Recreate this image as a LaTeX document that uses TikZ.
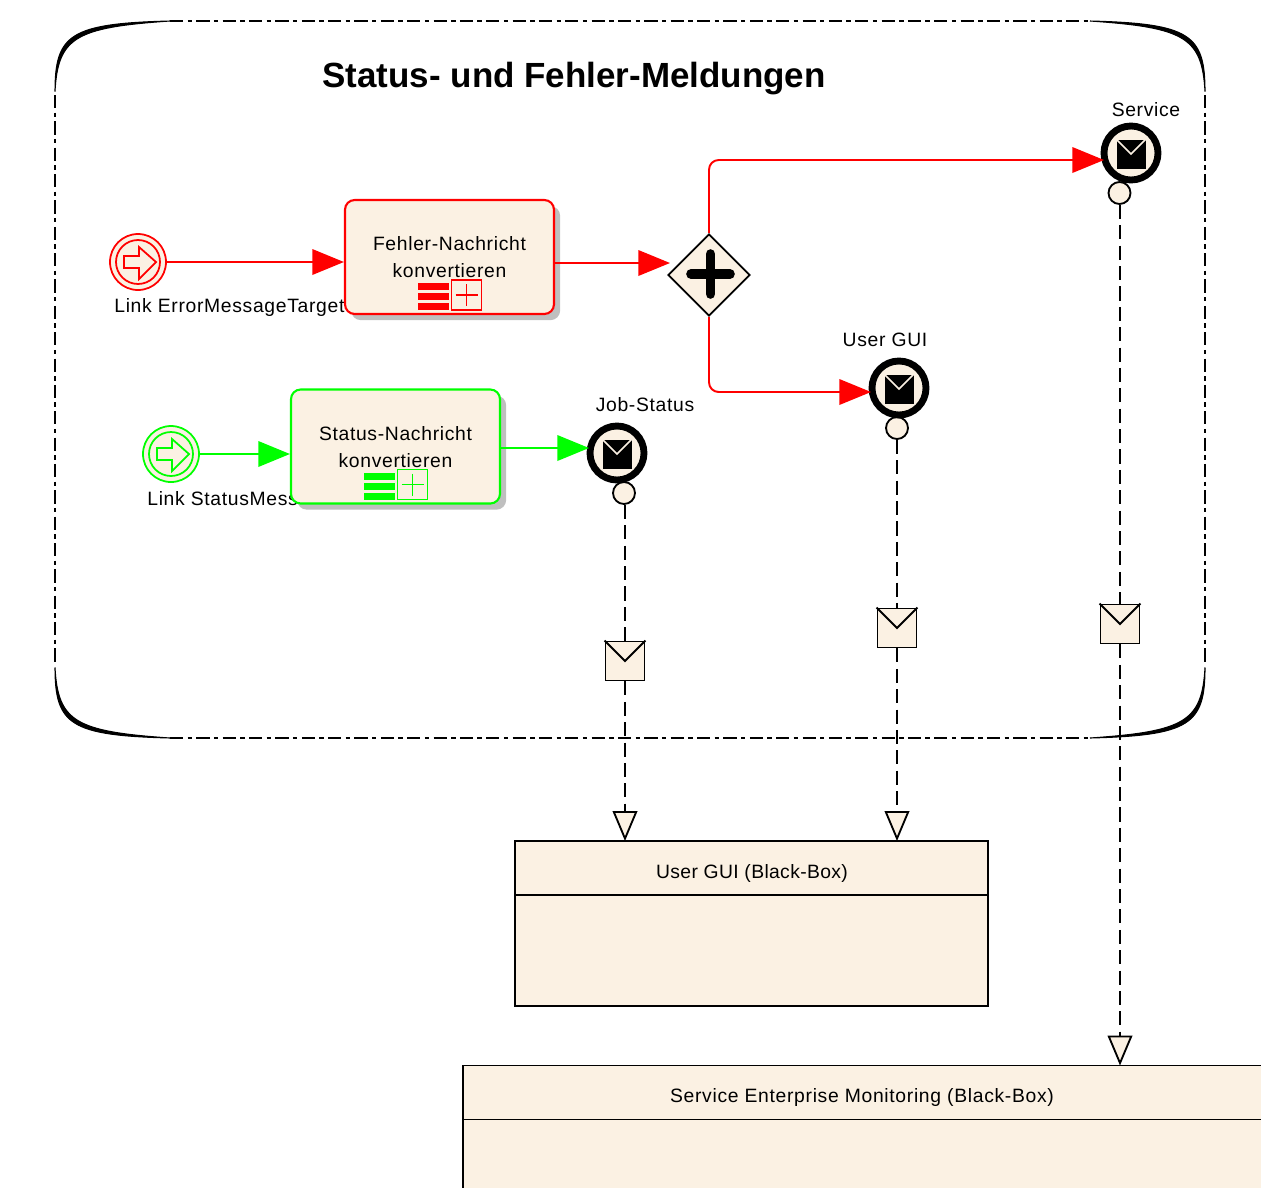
\documentclass[tikz,border=0pt]{standalone}
\usepackage{fontspec}
\setmainfont{Liberation Sans}
\newfontfamily\labelfont[LetterSpace=3.5]{Liberation Sans}
\newfontfamily\poolfont[LetterSpace=1.8]{Liberation Sans}
\usepackage{xcolor}
\usetikzlibrary{arrows.meta,positioning,shadows,shapes.geometric,calc}
\definecolor{cream}{RGB}{251,241,227}
\definecolor{linkGreen}{RGB}{0,255,0}
\def\u{0.02cm}
\tikzset{
  flow/.style={line width=1.1pt,-{Triangle[length=18pt,width=14.5pt]}},
  msgFlow/.style={black,line width=1.05pt,dash pattern=on 8pt off 3.6pt},
  msgArrow/.style={msgFlow,-{Triangle[open,fill=cream,length=17pt,width=14pt,line width=1.05pt]}},
  frameLine/.style={line width=1.05pt,dash pattern=on 7.5pt off 2.5pt on 2.5pt off 2.5pt},
  task/.style={rectangle,rounded corners=5.5pt,fill=cream,line width=1.2pt,minimum width={209*\u},minimum height={114*\u},
    drop shadow={shadow xshift=3.5pt,shadow yshift=-3.5pt,fill=black!25,opacity=1}},
  label/.style={font=\labelfont\fontsize{11}{13}\selectfont,inner sep=0pt},
  taskText/.style={label,align=center},
  pool/.style={rectangle,draw,fill=cream,line width=1.05pt,inner sep=0pt,outer sep=0pt}
}
\begin{document}
\begin{tikzpicture}[x=\u,y=-\u]
\clip (0,0) rectangle (1261,1187);

% the frame of the process
\draw[frameLine] (170,21) -- (1090,21);
\draw[frameLine] (170,738) -- (1090,738);
\draw[frameLine] (55,95) -- (55,665);
\draw[frameLine] (1205,95) -- (1205,665);
\foreach \sx/\sy in {-1/-1,1/-1,1/1,-1/1}
  \filldraw[line width=0.6pt,shift={(630,379.5)}] ({\sx*575},{\sy*288}) .. controls ({\sx*575},{\sy*345}) and ({\sx*560},{\sy*356}) .. ({\sx*460},{\sy*358.5})
    .. controls ({\sx*555},{\sy*352}) and ({\sx*572},{\sy*342}) .. ({\sx*575},{\sy*288}) -- cycle;

\node[font=\fontsize{19.9}{22}\bfseries\selectfont,inner sep=0pt] (title) at (574,79) {Status- und Fehler-Meldungen};

% link labels, the tasks hide their ends
\node[label,anchor=west] (errLabel) at (114,307) {Link ErrorMessageTarget};
\node[label,anchor=west] (statusLabel) at (147,499) {Link StatusMess};

% start events
\foreach \name/\col/\x/\y in {errStart/red/138/262,statusStart/linkGreen/171/454}
{
  \node[circle,draw=\col,fill=cream,line width=1pt,minimum size={56*\u},inner sep=0pt] (\name) at (\x,\y) {};
  \draw[\col,line width=1pt] (\name) circle [radius=22];
  \draw[\col,line width=1pt,shift={(\x,\y)}] (-14,-6) -- (1,-6) -- (1,-15) -- (18,0) -- (1,17) -- (1,6) -- (-14,6) -- cycle;
}

% tasks
\foreach \name/\col/\x/\y/\ty/\lineA in {errTask/red/449.5/257/257/Fehler-Nachricht,statusTask/linkGreen/395.5/446.5/447.5/Status-Nachricht}
{
  \node[task,draw=\col] (\name) at (\x,\y) {};
  \node[taskText] (\name Text) at (\x,\ty) {\lineA\\[2.3pt]konvertieren};
  \foreach \b in {0,1,2}
    \fill[\col,shift={(\x,\y)}] (-31.5,{26+\b*10}) rectangle (-0.5,{33+\b*10});
  \draw[\col,line width=1pt,fill=cream,shift={(\x,\y)}] (2,23) rectangle (32,53);
  \draw[\col,line width=0.85pt,shift={(\x,\y)}] (6,38) -- (28,38) (17,27) -- (17,49);
}

% gateway
\node[diamond,draw,fill=cream,line width=1.05pt,minimum size={82*\u},inner sep=0pt] (gateway) at (709,275) {};
\draw[line width=5.5pt,line cap=round] (691,274) -- (730,274) (710.5,254) -- (710.5,294);

% pools
\node[pool,minimum width={473*\u},minimum height={54*\u}] (userHead) at (751.5,868) {};
\node[pool,minimum width={473*\u},minimum height={111*\u},below=0pt of userHead] (userBody) {};
\node[font=\poolfont\fontsize{11}{13}\selectfont,inner sep=0pt] (userText) at (752,873) {User GUI (Black-Box)};
\node[pool,minimum width={810*\u},minimum height={54*\u}] (serviceHead) at (868,1092.5) {};
\node[pool,minimum width={810*\u},minimum height={111*\u},below=0pt of serviceHead] (serviceBody) {};
\node[label] (serviceText) at (862,1097) {Service Enterprise Monitoring (Black-Box)};

% end events with their message flows
\foreach \name/\txt/\x/\y/\lx/\ly/\px/\py/\mx/\my/\target in {jobStatus/Job-Status/617/453/645/405/624/493/625/661/userHead,userGui/User GUI/899/388/885/340/897/428/897/628/userHead,service/Service/1131/153/1146/110/1119.5/193/1120/624/serviceHead}
{
  \node[label] (\name Label) at (\lx,\ly) {\txt};
  \node[circle,draw,fill=cream,line width=1.05pt,minimum size={22*\u},inner sep=0pt] (\name Port) at (\px,\py) {};
  \node[circle,draw,fill=cream,line width=3.9pt,minimum size={54*\u},inner sep=0pt] (\name Event) at (\x,\y) {};
  \node[rectangle,fill=black,minimum width={29*\u},minimum height={29*\u},inner sep=0pt] (\name Mail) at (\x,\y+1) {};
  \draw[cream,line width=0.85pt] (\name Mail.north west) -- (\name Mail.center) -- (\name Mail.north east);
  \node[rectangle,draw,fill=cream,line width=1.05pt,minimum width={39*\u},minimum height={39*\u},inner sep=0pt] (\name Msg) at (\mx,\my) {};
  \draw[line width=1.05pt] (\name Msg.north west) -- (\name Msg.center) -- (\name Msg.north east);
  \draw[msgFlow] (\name Msg.north |- \name Port.south) -- (\name Msg.north);
  \draw[msgArrow] (\name Msg.south) -- (\name Msg.south |- \target.north);
}

% sequence flows
\coordinate (gatewayIn) at (670,263);
\coordinate (serviceIn) at (1104,160);
\coordinate (userIn) at (871,392);
\coordinate (errOut) at (554.5,263);
\coordinate (statusOut) at (500.5,448);
\coordinate (jobIn) at (589,448);
\draw[flow,red] (errStart.east) -- (errStart.east -| errTask.west);
\draw[flow,red] (errOut) -- (gatewayIn);
\draw[flow,red,rounded corners=5.5pt] (gateway.north) |- (serviceIn);
\draw[flow,red,rounded corners=5.5pt] (gateway.south) |- (userIn);
\draw[flow,linkGreen] (statusStart.east) -- (statusStart.east -| statusTask.west);
\draw[flow,linkGreen] (statusOut) -- (jobIn);

\end{tikzpicture}
\end{document}
